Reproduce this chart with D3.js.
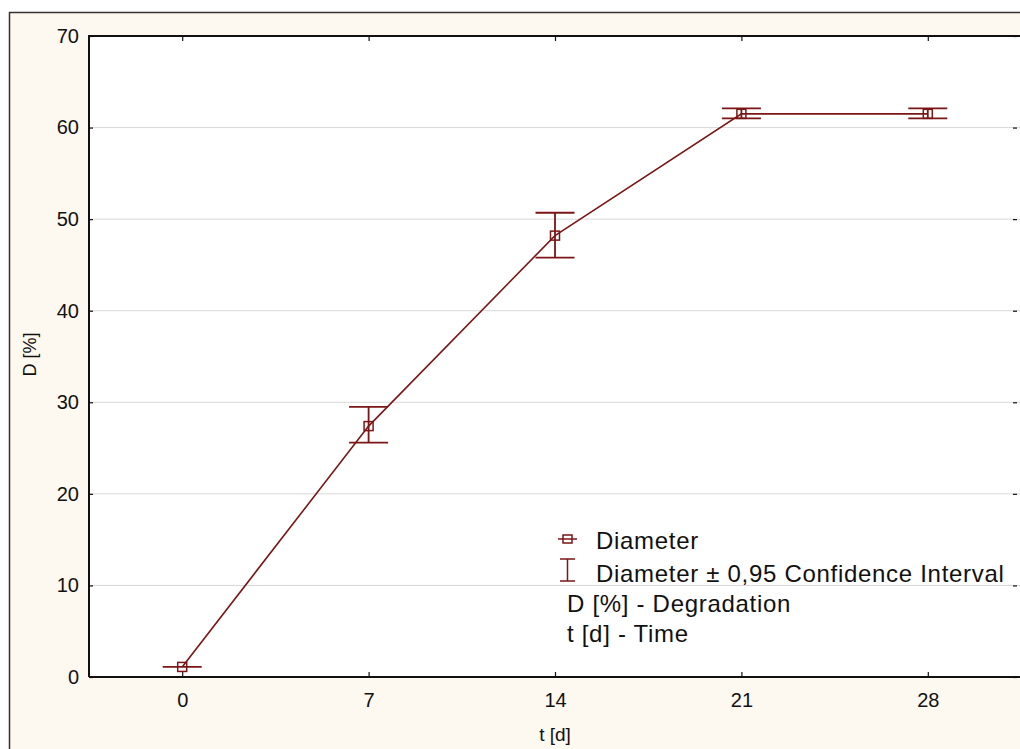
<!DOCTYPE html>
<html>
<head>
<meta charset="utf-8">
<script src="https://cdn.jsdelivr.net/npm/d3@7"></script>
<style>
  html, body { margin: 0; padding: 0; background: #ffffff; }
  svg { display: block; }
  text { font-family: Arial, "Liberation Sans", sans-serif; fill: #111; }
</style>
</head>
<body>
<svg id="chart" width="1020" height="749"></svg>
<script>
// Degradation over time: mean diameter and 0.95 confidence interval
const days = [0, 7, 14, 21, 28];
const diameter = [1.1, 27.4, 48.2, 61.5, 61.5];
const ciLow = [1.1, 25.6, 45.8, 61.0, 61.0];
const ciHigh = [1.1, 29.5, 50.7, 62.1, 62.1];
const yTicks = [0, 10, 20, 30, 40, 50, 60, 70];
const legendLines = ["Diameter", "Diameter \u00b1 0,95 Confidence Interval", "D [%] - Degradation", "t [d] - Time"];

const W = 1020, H = 749;
const plot = { left: 89, top: 36, right: 1021, bottom: 677 };
const color = "#7b1616";

const svg = d3.select("#chart");

// outer frame
svg.append("rect").attr("x", 0).attr("y", 0).attr("width", W).attr("height", H).attr("fill", "#ffffff");
svg.append("rect").attr("x", 9.5).attr("y", 12.5).attr("width", W + 20).attr("height", H + 20)
  .attr("fill", "#fdf8f0").attr("stroke", "#333").attr("stroke-width", 1.5);

const x = d3.scaleLinear().domain([-3.5, 31.5]).range([plot.left, plot.right]);
const y = d3.scaleLinear().domain([0, 70]).range([plot.bottom, plot.top]);

// plot area
svg.append("rect").attr("x", plot.left).attr("y", plot.top)
  .attr("width", plot.right - plot.left).attr("height", plot.bottom - plot.top)
  .attr("fill", "#ffffff");

// horizontal gridlines
svg.append("g").selectAll("line").data(yTicks.slice(1, -1)).join("line")
  .attr("x1", plot.left).attr("x2", plot.right)
  .attr("y1", d => y(d)).attr("y2", d => y(d))
  .attr("stroke", "#d8d8d8").attr("stroke-width", 1);

// axes with inward ticks
const axisStyle = g => {
  g.select(".domain").remove();
  g.selectAll(".tick line").attr("stroke", "#111").attr("stroke-width", 1.2);
  g.selectAll(".tick text").attr("font-size", 20).attr("fill", "#111")
    .attr("font-family", "Arial, 'Liberation Sans', sans-serif");
};

svg.append("g").attr("transform", `translate(0,${plot.bottom})`)
  .call(d3.axisBottom(x).tickValues(days).tickSize(-5).tickPadding(16).tickFormat(d3.format("d")))
  .call(axisStyle);
svg.append("g").attr("transform", `translate(0,${plot.top})`)
  .call(d3.axisTop(x).tickValues(days).tickSize(-5).tickFormat(""))
  .call(axisStyle);
svg.append("g").attr("transform", `translate(${plot.left},0)`)
  .call(d3.axisLeft(y).tickValues(yTicks).tickSize(-4).tickPadding(10).tickFormat(d3.format("d")))
  .call(axisStyle);
svg.append("g").attr("transform", `translate(${W - 3},0)`)
  .call(d3.axisRight(y).tickValues(yTicks).tickSize(-4).tickFormat(""))
  .call(axisStyle);

// plot border lines
svg.append("path")
  .attr("d", `M${plot.left},${plot.bottom}H${plot.right}M${plot.left},${plot.bottom}V${plot.top}H${plot.right}`)
  .attr("fill", "none").attr("stroke", "#111").attr("stroke-width", 2);

// axis titles
svg.append("text").attr("x", x(14)).attr("y", 741).attr("text-anchor", "middle")
  .attr("font-size", 19).text("t [d]");
svg.append("text").attr("transform", `translate(36,${y(35) - 2}) rotate(-90)`)
  .attr("text-anchor", "middle").attr("font-size", 18).text("D [%]");

const data = days.map((d, i) => ({ t: d, v: diameter[i], lo: ciLow[i], hi: ciHigh[i] }));

// mean line
svg.append("path").datum(data)
  .attr("d", d3.line().x(d => x(d.t)).y(d => y(d.v)))
  .attr("fill", "none").attr("stroke", color).attr("stroke-width", 1.6);

// confidence interval whiskers
const cap = 19.5;
const eb = svg.append("g").attr("stroke", color).attr("stroke-width", 1.8).attr("fill", "none");
eb.selectAll("path").data(data).join("path")
  .attr("d", d => `M${x(d.t)},${y(d.hi)}V${y(d.lo)}` +
    `M${x(d.t) - cap},${y(d.hi)}H${x(d.t) + cap}` +
    `M${x(d.t) - cap},${y(d.lo)}H${x(d.t) + cap}`);

// square markers
const ms = 9;
svg.append("g").selectAll("rect").data(data).join("rect")
  .attr("x", d => x(d.t) - ms / 2).attr("y", d => y(d.v) - ms / 2)
  .attr("width", ms).attr("height", ms)
  .attr("fill", "none").attr("stroke", color).attr("stroke-width", 1.5);

// legend
const lg = svg.append("g");
const baseY = [549, 582, 612, 642];
// marker symbol
lg.append("line").attr("x1", 558).attr("x2", 577).attr("y1", 539).attr("y2", 539)
  .attr("stroke", color).attr("stroke-width", 1.5);
lg.append("rect").attr("x", 563).attr("y", 535).attr("width", 9).attr("height", 8)
  .attr("fill", "none").attr("stroke", color).attr("stroke-width", 1.5);
// whisker symbol
lg.append("path").attr("d", `M560,559H575M567.5,559V581M560,581H575`)
  .attr("stroke", color).attr("stroke-width", 1.5).attr("fill", "none");
lg.selectAll("text").data(legendLines).join("text")
  .attr("x", (d, i) => i < 2 ? 596 : 567)
  .attr("y", (d, i) => baseY[i])
  .attr("font-size", 24)
  .attr("letter-spacing", 0.7)
  .text(d => d);
</script>
</body>
</html>
